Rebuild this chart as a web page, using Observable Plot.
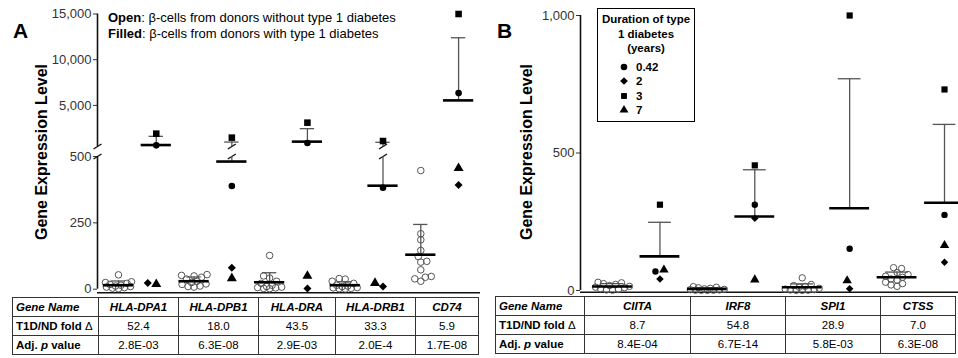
<!DOCTYPE html>
<html><head><meta charset="utf-8">
<script src="https://cdn.jsdelivr.net/npm/d3@7"></script>
<script src="https://cdn.jsdelivr.net/npm/@observablehq/plot@0.6"></script>
<style>
body{margin:0;background:#fff;font-family:"Liberation Sans",Arial,Helvetica,sans-serif;color:#000;}
#wrap{position:relative;width:958px;height:358px;overflow:hidden;background:#fff;}
.plot{position:absolute;top:0;}
.ylab{position:absolute;font-weight:bold;font-size:16px;white-space:nowrap;transform:translate(-50%,-50%) rotate(-90deg);}
.panel{position:absolute;font-weight:bold;font-size:21px;line-height:21px;}
.note{position:absolute;left:108px;top:9.5px;font-size:13px;line-height:16px;white-space:nowrap;}
table{position:absolute;border-collapse:collapse;font-size:11.5px;table-layout:fixed;}
td{border:1px solid #333;height:18px;padding:0 3px;text-align:center;white-space:nowrap;overflow:hidden;}
td.h{text-align:left;font-weight:bold;}
td.g{font-weight:bold;font-style:italic;}
#legB{position:absolute;left:597px;top:8px;width:96px;height:112px;border:1.5px solid #000;font-weight:bold;font-size:11.5px;}
#legB .t{position:absolute;left:0;width:96px;text-align:center;line-height:14.5px;white-space:nowrap;}
#legB .it{position:absolute;left:38px;line-height:14px;}
#legB svg{position:absolute;left:19px;}
</style></head>
<body><div id="wrap"></div>
<script>
// ---------- data: panel A ----------
const genesA = ["HLA-DPA1","HLA-DPB1","HLA-DRA","HLA-DRB1","CD74"];
const ndA_DPA1 = [54,28,25,22,18,15,12,10,8,6,4,2];
const ndA_DPB1 = [55,52,50,45,38,30,25,20,18,12,10,8];
const ndA_DRA  = [127,50,42,30,22,15,10,8,6,5,3,2];
const ndA_DRB1 = [40,38,30,22,15,12,10,6,5,3,2,1];
const ndA_CD74 = [447,209,186,146,123,105,102,73,48,45,39,30];
const t1dA_circle   = [628, 389, 880, 382, 6344];
const t1dA_diamond  = [23, 81, 3, 10, 393];
const t1dA_square   = [1907, 1470, 3109, 1100, 15000];
const t1dA_triangle = [19, 41, 50, 23, 456];
const meanNDA  = [15, 30, 26, 15, 130];
const sdTopNDA = [31, 46, 62, 28, 244];
const meanT1DA  = [661, 481, 1033, 390, 5546];
const sdTopT1DA = [1612, 990, 2454, 960, 12400];
const foldA = ["52.4","18.0","43.5","33.3","5.9"];
const pvalA = ["2.8E-03","6.3E-08","2.9E-03","2.0E-4","1.7E-08"];
const yTicksA = [0, 250, 500, 5000, 10000, 15000];

// ---------- data: panel B ----------
const genesB = ["CIITA","IRF8","SPI1","CTSS"];
const ndB_CIITA = [30,28,25,22,18,15,12,10,6,4,2,1];
const ndB_IRF8  = [14,12,10,8,6,4,3,2,1,1,0.5,0.5];
const ndB_SPI1  = [46,22,18,15,12,8,5,3,2,1,0.5,0.5];
const ndB_CTSS  = [83,80,65,58,52,48,42,38,30,25,20,15];
const t1dB_circle   = [69, 312, 152, 275];
const t1dB_diamond  = [42, 263, 6, 103];
const t1dB_square   = [312, 455, 1000, 731];
const t1dB_triangle = [75, 39, 36, 164];
const meanNDB  = [14.5, 6, 12, 48];
const sdTopNDB = [25, 10, 24, 67];
const meanT1DB  = [124, 269, 299, 319];
const sdTopT1DB = [248, 439, 770, 604];
const foldB = ["8.7","54.8","28.9","7.0"];
const pvalB = ["8.4E-04","6.7E-14","5.8E-03","6.3E-08"];
const yTicksB = [0, 500, 1000];

const durations = ["0.42","2","3","7"];

// ---------- helpers ----------
const diamondSym = {draw(ctx, size){const h=Math.sqrt(size/2);ctx.moveTo(0,-h);ctx.lineTo(h,0);ctx.lineTo(0,h);ctx.lineTo(-h,0);ctx.closePath();}};
const symNames = ["circle","diamond","square","triangle"];
const symObj = {circle:"circle", diamond:diamondSym, square:"square", triangle:"triangle"};

// simple beeswarm layout (pixel offsets), limited to +-maxOff
function swarm(vals, ypx, diam, maxOff){
  const order = vals.map((v,i)=>i).sort((a,b)=>vals[a]-vals[b]);
  const placed=[], off=[];
  for (const i of order){
    const y = ypx(vals[i]);
    let pos = null, bestC = 0, bestD = -1;
    for (let k=0;k*0.5<=maxOff;k++){
      const d=k*0.5;
      const cands = k===0?[0]:(placed.length%2?[-d,d]:[d,-d]);
      for (const c of cands){
        const md = placed.length ? d3.min(placed, p=>Math.hypot(p.x-c,p.y-y)) : Infinity;
        if (md>=diam){pos=c;break;}
        if (md>bestD){bestD=md;bestC=c;}
      }
      if (pos!==null) break;
    }
    if (pos===null) pos=bestC;
    off[i]=pos; placed.push({x:pos,y});
  }
  return off;
}

function panel(cfg){
  const ys = d3.scaleLinear().domain(cfg.yDomain).range(cfg.yRange);
  const xs = d3.scaleLinear().domain(cfg.xDomain).range([cfg.marginLeft, cfg.width]);
  const ppu = xs(1)-xs(0);
  const nd=[], t1d=[], summ=[], err=[], brkMarks=[];
  cfg.genes.forEach((g,i)=>{
    const vals = cfg.nd[i];
    const off = swarm(vals, ys, cfg.ndDiam, cfg.maxOff);
    vals.forEach((v,j)=>nd.push({x:2*i+off[j]/ppu, y:v}));
    const tv = cfg.t1d.map(a=>a[i]);
    const toff = swarm(tv, ys, cfg.t1dDiam, cfg.maxOff);
    tv.forEach((v,j)=>t1d.push({x:2*i+1+toff[j]/ppu, y:v, sym:symNames[j]}));
    summ.push({x:2*i, mean:cfg.meanND[i], top:cfg.topND[i]});
    summ.push({x:2*i+1, mean:cfg.meanT1D[i], top:cfg.topT1D[i]});
  });
  const slashes = (x)=>{
    const w = 4/ppu;
    return [ys(cfg.brk[0]), ys(cfg.brk[1])].map(py=>({x1:x-w, x2:x+w, y1:ys.invert(py+2.5), y2:ys.invert(py-2.5)}));
  };
  summ.forEach(s=>{
    if (cfg.brk && s.mean<cfg.brk[0] && s.top>cfg.brk[1]){
      err.push({x:s.x,y1:s.mean,y2:cfg.brk[0]},{x:s.x,y1:cfg.brk[1],y2:s.top});
      brkMarks.push(...slashes(s.x));
    } else err.push({x:s.x,y1:s.mean,y2:s.top});
  });
  const ymax = cfg.yDomain[cfg.yDomain.length-1];
  let axisSegs;
  if (cfg.brk){
    axisSegs=[{y1:cfg.yDomain[0],y2:cfg.brk[0]},{y1:cfg.brk[1],y2:ymax}];
    brkMarks.push(...slashes(cfg.xDomain[0]));
  } else axisSegs=[{y1:cfg.yDomain[0],y2:ymax}];

  const dotMarks = symNames.map(s=>Plot.dot(t1d.filter(d=>d.sym===s),{x:"x",y:"y",symbol:symObj[s],r:cfg.symR[s],fill:"#000",stroke:"none"}));
  return Plot.plot({
    width:cfg.width, height:cfg.height,
    marginLeft:cfg.marginLeft, marginRight:0, marginTop:0, marginBottom:0,
    style:{fontFamily:'"Liberation Sans",Arial,Helvetica,sans-serif', fontSize:"13px", color:"#333", background:"transparent", overflow:"visible"},
    x:{type:"linear", domain:cfg.xDomain, axis:null},
    y:{type:"linear", domain:cfg.yDomain, range:cfg.yRange, ticks:cfg.ticks, tickFormat:d3.format(","), tickSize:4, tickPadding:2, label:null},
    marks:[
      Plot.ruleX(axisSegs,{x:()=>cfg.xDomain[0], y1:"y1", y2:"y2", stroke:"#111", strokeWidth:1.6}),
      Plot.ruleY([0],{dy:cfg.xAxisDy, stroke:"#111", strokeWidth:1.6}),
      Plot.link(brkMarks,{x1:"x1",x2:"x2",y1:"y1",y2:"y2",stroke:"#111",strokeWidth:1.4}),
      Plot.ruleX(err,{x:"x",y1:"y1",y2:"y2",stroke:"#555",strokeWidth:1.3}),
      Plot.ruleY(summ,{y:"top",x1:d=>d.x-cfg.capW,x2:d=>d.x+cfg.capW,stroke:"#555",strokeWidth:1.3}),
      Plot.dot(nd,{x:"x",y:"y",r:cfg.ndR,stroke:"#555",strokeWidth:1,fill:"none"}),
      ...dotMarks,
      Plot.ruleY(summ,{y:"mean",x1:d=>d.x-cfg.barW,x2:d=>d.x+cfg.barW,stroke:"#000",strokeWidth:2.6})
    ]
  });
}

const wrap = document.getElementById("wrap");

const plotA = panel({
  genes:genesA, nd:[ndA_DPA1,ndA_DPB1,ndA_DRA,ndA_DRB1,ndA_CD74],
  t1d:[t1dA_circle,t1dA_diamond,t1dA_square,t1dA_triangle],
  meanND:meanNDA, topND:sdTopNDA, meanT1D:meanT1DA, topT1D:sdTopT1DA,
  yDomain:[0,500,501,15000], yRange:[288.7,156,146,13.5], brk:[500,501],
  xDomain:[-0.555,9.58], width:480, height:296, marginLeft:97,
  ticks:yTicksA, xAxisDy:3.5, ndDiam:6, t1dDiam:8.5, maxOff:13, ndR:3.3,
  symR:{circle:3.3,diamond:3.2,square:3.7,triangle:3.7}, barW:0.4, capW:0.19
});
plotA.classList.add("plot"); plotA.style.left="0px";
wrap.appendChild(plotA);

const plotB = panel({
  genes:genesB, nd:[ndB_CIITA,ndB_IRF8,ndB_SPI1,ndB_CTSS],
  t1d:[t1dB_circle,t1dB_diamond,t1dB_square,t1dB_triangle],
  meanND:meanNDB, topND:sdTopNDB, meanT1D:meanT1DB, topT1D:sdTopT1DB,
  yDomain:[0,1000], yRange:[290,15], brk:null,
  xDomain:[-0.675,7.295], width:478, height:296, marginLeft:100,
  ticks:yTicksB, xAxisDy:1.8, ndDiam:6, t1dDiam:8.5, maxOff:17, ndR:3.2,
  symR:{circle:3.2,diamond:3.0,square:3.5,triangle:3.5}, barW:0.42, capW:0.24
});
plotB.classList.add("plot"); plotB.style.left="480px";
wrap.appendChild(plotB);

// ---------- text overlays ----------
function el(tag, cls, html, style){const e=document.createElement(tag); if(cls) e.className=cls; e.innerHTML=html; Object.assign(e.style, style||{}); wrap.appendChild(e); return e;}
el("div","panel","A",{left:"13px",top:"19.5px"});
el("div","panel","B",{left:"497px",top:"19.5px"});
el("div","ylab","Gene Expression Level",{left:"42px",top:"152px"});
el("div","ylab","Gene Expression Level",{left:"527px",top:"152px"});
el("div","note","<b>Open</b>: β-cells from donors without type 1 diabetes<br><b>Filled</b>: β-cells from donors with type 1 diabetes");

// legend B
const leg = el("div","","",{});
leg.id="legB";
["Duration of type","1 diabetes","(years)"].forEach((t,i)=>{
  const d=document.createElement("div"); d.className="t"; d.textContent=t; d.style.top=(3+i*14.5)+"px"; leg.appendChild(d);
});
const legSyms=[d3.symbolCircle, diamondSym, d3.symbolSquare, d3.symbolTriangle];
durations.forEach((lab,i)=>{
  const cy = 58+i*14.3;
  const svg = d3.create("svg").attr("width",14).attr("height",14).style("top",(cy-7)+"px");
  svg.append("path").attr("transform","translate(7,7)").attr("d", d3.symbol().type(legSyms[i]).size(i===1?30:34)()).attr("fill","#000");
  leg.appendChild(svg.node());
  const d=document.createElement("div"); d.className="it"; d.textContent=lab; d.style.top=(cy-7)+"px"; leg.appendChild(d);
});

// ---------- tables ----------
function table(left, top, widths, genes, fold, pv){
  const t=document.createElement("table");
  t.style.left=left+"px"; t.style.top=top+"px";
  t.style.width=d3.sum(widths)+"px";
  const cg=document.createElement("colgroup");
  widths.forEach(w=>{const c=document.createElement("col"); c.style.width=w+"px"; cg.appendChild(c);});
  t.appendChild(cg);
  const rows=[
    ['<i>Gene Name</i>', ...genes.map(g=>({g}))],
    ['T1D/ND fold <span style="font-weight:normal">Δ</span>', ...fold],
    ['Adj. <i>p</i> value', ...pv]
  ];
  rows.forEach(r=>{
    const tr=document.createElement("tr");
    r.forEach((c,j)=>{
      const td=document.createElement("td");
      if(j===0){td.className="h"; td.innerHTML=c;}
      else if(typeof c==="object"){td.className="g"; td.textContent=c.g;}
      else td.textContent=c;
      tr.appendChild(td);
    });
    t.appendChild(tr);
  });
  wrap.appendChild(t);
}
table(12, 297, [86,80,80,77,80,63], genesA, foldA, pvalA);
table(495, 296, [89,106,95,95,75], genesB, foldB, pvalB);
</script></body></html>
